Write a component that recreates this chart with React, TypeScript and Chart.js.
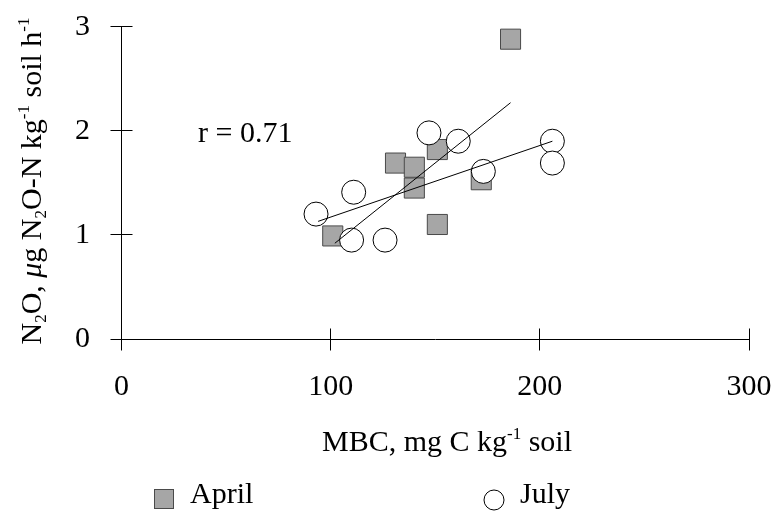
import React, { useEffect, useRef } from "react";
import { Chart, registerables } from "chart.js";

Chart.register(...registerables);

// ---- data ----
const seriesNames = ["April", "July"];
const aprilX = [186, 151, 131, 140, 140, 172, 151, 101];
const aprilY = [2.88, 1.82, 1.69, 1.65, 1.45, 1.53, 1.1, 0.99];
const julyX = [93, 111, 110, 126, 147, 161, 173, 206, 206];
const julyY = [1.2, 1.41, 0.95, 0.95, 1.98, 1.9, 1.61, 1.9, 1.69];
const aprilFitX = [102, 186];
const aprilFitY = [0.92, 2.27];
const julyFitX = [94, 206];
const julyFitY = [1.13, 1.9];
const xTicks = [0, 100, 200, 300];
const yTicks = [0, 1, 2, 3];
const annotationText = "r = 0.71";
const annotationX = 36.6;
const annotationY = 1.97;

type Seg = { t: string; sub?: boolean; sup?: boolean; italic?: boolean };
const xTitle: Seg[] = [
  { t: "MBC, mg C kg" },
  { t: "-1", sup: true },
  { t: " soil" },
];
const yTitle: Seg[] = [
  { t: "N" },
  { t: "2", sub: true },
  { t: "O, " },
  { t: "\u03bc", italic: true },
  { t: "g N" },
  { t: "2", sub: true },
  { t: "O-N kg" },
  { t: "-1", sup: true },
  { t: " soil h" },
  { t: "-1", sup: true },
];

const FAMILY = "'Liberation Serif', 'Times New Roman', serif";
const SIZE = 30;
const APRIL_FILL = "#a6a6a6";
const APRIL_EDGE = "#4a4a4a";

function segFont(s: Seg) {
  const size = s.sub || s.sup ? Math.round(SIZE * 0.58) : SIZE;
  return `${s.italic ? "italic " : ""}${size}px ${FAMILY}`;
}

function richWidth(ctx: CanvasRenderingContext2D, segs: Seg[]) {
  let w = 0;
  for (const s of segs) {
    ctx.font = segFont(s);
    w += ctx.measureText(s.t).width;
  }
  return w;
}

function drawRich(ctx: CanvasRenderingContext2D, segs: Seg[], cx: number, baseline: number) {
  const w = richWidth(ctx, segs);
  let x = cx - w / 2;
  ctx.textAlign = "left";
  ctx.textBaseline = "alphabetic";
  ctx.fillStyle = "#000";
  for (const s of segs) {
    ctx.font = segFont(s);
    const dy = s.sub ? 5 : s.sup ? -12 : 0;
    ctx.fillText(s.t, x, baseline + dy);
    x += ctx.measureText(s.t).width;
  }
}

const crisp = (v: number) => Math.floor(v) + 0.5;

const overlayPlugin = {
  id: "overlay",
  beforeDatasetsDraw(chart: any) {
    const ctx: CanvasRenderingContext2D = chart.ctx;
    const xs = chart.scales.x;
    const ys = chart.scales.y;
    const ax = crisp(xs.getPixelForValue(xTicks[0]));
    const ay = crisp(ys.getPixelForValue(yTicks[0]));
    ctx.save();
    ctx.strokeStyle = "#000";
    ctx.lineWidth = 1;
    ctx.beginPath();
    // y axis
    ctx.moveTo(ax, crisp(ys.getPixelForValue(yTicks[yTicks.length - 1])));
    ctx.lineTo(ax, ay);
    // x axis
    ctx.moveTo(ax, ay);
    ctx.lineTo(crisp(xs.getPixelForValue(xTicks[xTicks.length - 1])), ay);
    // y ticks (cross)
    for (const v of yTicks) {
      const p = crisp(ys.getPixelForValue(v));
      ctx.moveTo(ax - 11, p);
      ctx.lineTo(ax + 11, p);
    }
    // x ticks (cross)
    for (const v of xTicks) {
      const p = crisp(xs.getPixelForValue(v));
      ctx.moveTo(p, ay - 11);
      ctx.lineTo(p, ay + 11);
    }
    ctx.stroke();
    ctx.restore();
  },
  afterDraw(chart: any) {
    const ctx: CanvasRenderingContext2D = chart.ctx;
    const xs = chart.scales.x;
    const ys = chart.scales.y;
    ctx.save();
    // x title
    drawRich(ctx, xTitle, 447, 451);
    // y title (rotated)
    ctx.save();
    ctx.translate(41, 181);
    ctx.rotate(-Math.PI / 2);
    drawRich(ctx, yTitle, 0, 0);
    ctx.restore();
    // annotation
    ctx.font = `${SIZE}px ${FAMILY}`;
    ctx.fillStyle = "#000";
    ctx.textAlign = "left";
    ctx.textBaseline = "middle";
    ctx.fillText(annotationText, xs.getPixelForValue(annotationX), ys.getPixelForValue(annotationY));
    // legend
    ctx.textBaseline = "alphabetic";
    ctx.fillStyle = APRIL_FILL;
    ctx.strokeStyle = APRIL_EDGE;
    ctx.lineWidth = 1;
    ctx.fillRect(154.5, 489.5, 19, 19);
    ctx.strokeRect(154.5, 489.5, 19, 19);
    ctx.fillStyle = "#000";
    ctx.fillText(seriesNames[0], 190, 503);
    ctx.beginPath();
    ctx.arc(494, 500, 10, 0, Math.PI * 2);
    ctx.fillStyle = "#fff";
    ctx.fill();
    ctx.strokeStyle = "#000";
    ctx.stroke();
    ctx.fillStyle = "#000";
    ctx.fillText(seriesNames[1], 520, 503);
    ctx.restore();
  },
};

export default function App() {
  const ref = useRef<HTMLCanvasElement | null>(null);
  useEffect(() => {
    document.body.style.margin = "0";
    const canvas = ref.current;
    if (!canvas) return;
    const tickFont = { family: FAMILY, size: SIZE };
    const chart = new Chart(canvas, {
      type: "scatter",
      data: {
        datasets: [
          {
            label: "April fit",
            data: aprilFitX.map((x, i) => ({ x, y: aprilFitY[i] })),
            showLine: true,
            borderColor: "#000",
            borderWidth: 1,
            pointRadius: 0,
            order: 0,
          },
          {
            label: "July fit",
            data: julyFitX.map((x, i) => ({ x, y: julyFitY[i] })),
            showLine: true,
            borderColor: "#000",
            borderWidth: 1,
            pointRadius: 0,
            order: 1,
          },
          {
            label: seriesNames[1],
            data: julyX.map((x, i) => ({ x, y: julyY[i] })),
            pointStyle: "circle",
            pointRadius: 12,
            backgroundColor: "#fff",
            borderColor: "#000",
            borderWidth: 1,
            order: 2,
          },
          {
            label: seriesNames[0],
            data: aprilX.map((x, i) => ({ x, y: aprilY[i] })),
            pointStyle: "rect",
            pointRadius: 14.2,
            backgroundColor: APRIL_FILL,
            borderColor: APRIL_EDGE,
            borderWidth: 1,
            order: 3,
          },
        ],
      },
      options: {
        animation: false,
        responsive: false,
        events: [],
        layout: { padding: { left: 0, right: 26, top: 26.7, bottom: 0 } },
        plugins: { legend: { display: false }, tooltip: { enabled: false } },
        scales: {
          x: {
            type: "linear",
            min: xTicks[0],
            max: xTicks[xTicks.length - 1],
            afterBuildTicks: (s: any) => {
              s.ticks = xTicks.map((v) => ({ value: v }));
            },
            grid: { display: false, drawTicks: false },
            border: { display: false },
            ticks: { font: tickFont, color: "#000", padding: 30, maxRotation: 0, autoSkip: false },
            afterFit: (s: any) => {
              s.height = 175;
              s.paddingLeft = 0;
              s.paddingRight = 0;
            },
          },
          y: {
            type: "linear",
            min: yTicks[0],
            max: yTicks[yTicks.length - 1],
            afterBuildTicks: (s: any) => {
              s.ticks = yTicks.map((v) => ({ value: v }));
            },
            grid: { display: false, drawTicks: false },
            border: { display: false },
            ticks: { font: tickFont, color: "#000", padding: 31.5, autoSkip: false },
            afterFit: (s: any) => {
              s.width = 121.5;
              s.paddingTop = 0;
              s.paddingBottom = 0;
            },
          },
        },
      },
      plugins: [overlayPlugin],
    } as any);
    return () => chart.destroy();
  }, []);
  return (
    <div style={{ width: 775, height: 514, background: "#fff" }}>
      <canvas ref={ref} width={775} height={514} style={{ width: 775, height: 514, display: "block" }} />
    </div>
  );
}
